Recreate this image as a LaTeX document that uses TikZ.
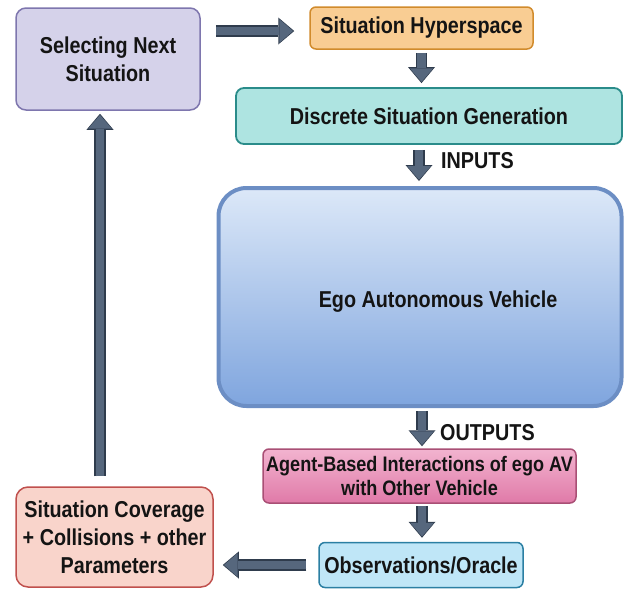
\documentclass[tikz,border=0pt]{standalone}
\usepackage{fontspec}
\newfontfamily\lbf{Liberation Sans}[FakeStretch=0.86]
\usetikzlibrary{arrows.meta,calc}
\definecolor{selfill}{HTML}{D5D2EA}
\definecolor{selline}{HTML}{7E76AE}
\definecolor{hypfill}{HTML}{F9CD93}
\definecolor{hypline}{HTML}{D18B2C}
\definecolor{discfill}{HTML}{AEE4E1}
\definecolor{discline}{HTML}{2A8C8A}
\definecolor{egotop}{HTML}{DCE8F8}
\definecolor{egobot}{HTML}{7FA5DE}
\definecolor{egoline}{HTML}{6C8EC4}
\definecolor{agtop}{HTML}{F2B3CF}
\definecolor{agbot}{HTML}{E07AA8}
\definecolor{agline}{HTML}{A94F75}
\definecolor{obsfill}{HTML}{BFE6F7}
\definecolor{obsline}{HTML}{2B7FA3}
\definecolor{covfill}{HTML}{F9D4CB}
\definecolor{covline}{HTML}{C0504D}
\definecolor{arrfill}{HTML}{56677D}
\definecolor{arrline}{HTML}{2F3C4D}
\definecolor{txt}{HTML}{141414}
\tikzset{
  box/.style={draw, rounded corners=#1, inner sep=0pt, align=center, text=txt,
    font=\lbf\bfseries\fontsize{23}{28}\selectfont},
  box/.default=8pt,
  lbl/.style={text=txt, inner sep=0pt, font=\lbf\bfseries\fontsize{23}{27}\selectfont},
  barrow/.style={draw=arrline, line width=11.5pt,
    -{Triangle[width=27pt,length=16pt,line width=0pt]},
    postaction={draw=arrfill, line width=8.5pt,
      -{Triangle[width=23.5pt,length=13.5pt,line width=0pt]}, shorten >=1.3pt}}
}
\begin{document}
\begin{tikzpicture}[x=1pt,y=-1pt]
\useasboundingbox (0,0) rectangle (624,590);
% nodes
\node[box=10pt, fill=selfill, draw=selline, line width=1.5pt,
  minimum width=184pt, minimum height=102pt] (sel) at (108,59) {Selecting Next\\Situation};
\node[box=6pt, fill=hypfill, draw=hypline, line width=1.5pt,
  minimum width=223pt, minimum height=42pt] (hyp) at (421.5,28) {Situation Hyperspace};
\node[box=8pt, fill=discfill, draw=discline, line width=1.8pt,
  minimum width=386pt, minimum height=56pt] (disc) at (429,116) {Discrete Situation Generation};
\node[box=28pt, top color=egotop, bottom color=egobot, draw=egoline, line width=4pt,
  minimum width=403pt, minimum height=218pt,
  label={[lbl, yshift=-5pt]center:{\hspace*{36pt}Ego Autonomous Vehicle}}] (ego) at (420,297) {};
\node[box=6pt, top color=agtop, bottom color=agbot, draw=agline, line width=1.5pt,
  minimum width=313pt, minimum height=54pt,
  font=\lbf\bfseries\fontsize{21}{23.5}\selectfont] (agent) at (419.5,476)
  {Agent-Based Interactions of ego AV\\with Other Vehicle};
\node[box=6pt, fill=obsfill, draw=obsline, line width=1.5pt,
  minimum width=204pt, minimum height=45pt] (obs) at (421,565) {Observations/Oracle};
\node[box=12pt, fill=covfill, draw=covline, line width=1.5pt,
  minimum width=197pt, minimum height=100pt] (cov) at (114.5,537) {Situation Coverage\\+ Collisions + other\\Parameters};
% connectors
\draw[barrow] ($(sel.east |- hyp.west)+(15,3)$) -- ($(hyp.west)+(-15,3)$);
\draw[barrow] ($(hyp.south)+(0,3)$) -- ($(hyp.south |- disc.north)+(0,-4)$);
\draw[barrow] ($(ego.north |- disc.south)+(-1,5)$) -- ($(ego.north)+(-1,-5)$);
\node[lbl, anchor=base west] (inputs) at (441,168) {INPUTS};
\draw[barrow] ($(ego.south)+(2,3)$) -- ($(agent.north)+(2.5,-2)$);
\node[lbl, anchor=base west] (outputs) at (440,440) {OUTPUTS};
\draw[barrow] ($(agent.south)+(2.5,2)$) -- ($(obs.north)+(1,-4)$);
\draw[barrow] ($(obs.west)+(-12,0)$) -- ($(cov.east |- obs.west)+(9,0)$);
\draw[barrow] ($(cov.north)+(-14.5,-10)$) -- ($(sel.south)+(-8,3)$);
\end{tikzpicture}
\end{document}
